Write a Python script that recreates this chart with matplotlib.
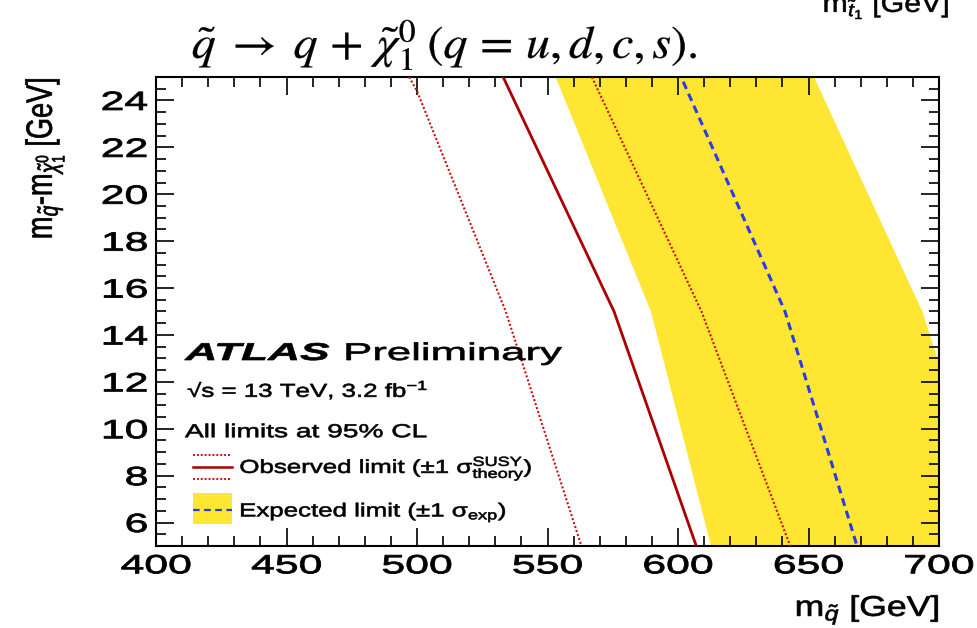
import matplotlib
matplotlib.use('Agg')
import matplotlib.pyplot as plt
from matplotlib.lines import Line2D
from matplotlib.patches import Rectangle
from matplotlib.legend_handler import HandlerBase
from matplotlib.patheffects import AbstractPathEffect
from matplotlib.transforms import Affine2D
from matplotlib.ticker import MultipleLocator

plt.rcParams['font.family'] = ['Liberation Sans', 'DejaVu Sans']
plt.rcParams['mathtext.fontset'] = 'custom'
plt.rcParams['mathtext.rm'] = 'Liberation Sans'
plt.rcParams['mathtext.it'] = 'Liberation Sans:italic'
plt.rcParams['mathtext.bf'] = 'Liberation Sans:bold'
plt.rcParams['mathtext.sf'] = 'Liberation Sans'

# limit contours: squark mass [GeV] vs mass splitting [GeV]
obs_dm = [25, 15, 5]
obs_msq = [533, 575.5, 607]
obs_dn_dm = [25, 24.4, 15, 5]
obs_dn_msq = [497, 500, 534, 563]
obs_up_dm = [25, 15, 5]
obs_up_msq = [567, 609, 643]
exp_dm = [24.8, 15, 5]
exp_msq = [602, 641, 668.6]
band_dm = [25, 15, 5]
band_lo_msq = [553, 589.5, 612.5]
band_hi_msq = [652, 693.5, 722]

yellow = '#ffe633'
dark_red = '#aa0000'
red = '#cc1111'
blue = '#2a3ce6'


class StretchX(AbstractPathEffect):
    # the reference text is squashed wide, so widen glyphs around an anchor
    def __init__(self, sx, anchor='left', lw=0.45):
        super().__init__()
        self.sx = sx
        self.anchor = anchor
        self.lw = lw

    def draw_path(self, renderer, gc, tpath, affine, rgbFace=None):
        bb = tpath.get_extents(affine)
        x0 = {'left': bb.x0, 'center': 0.5 * (bb.x0 + bb.x1), 'right': bb.x1}[self.anchor]
        t = affine + Affine2D().translate(-x0, 0).scale(self.sx, 1).translate(x0, 0)
        gc0 = renderer.new_gc()
        gc0.copy_properties(gc)
        gc0.set_linewidth(self.lw)
        renderer.draw_path(gc0, tpath, t, rgbFace)
        gc0.restore()


class ObsHandler(HandlerBase):
    def create_artists(self, legend, orig_handle, xdescent, ydescent,
                       width, height, fontsize, trans):
        xs = [-xdescent, -xdescent + width]
        y0 = height / 2 - ydescent
        d = 0.64 * fontsize
        arts = []
        for dy, ls, lw, c in ((d, (0, (1, 1)), 1.4, red), (0, '-', 1.8, dark_red),
                              (-d, (0, (1, 1)), 1.4, red)):
            arts.append(Line2D(xs, [y0 + dy] * 2, color=c, ls=ls, lw=lw,
                               transform=trans))
        return arts


class ExpHandler(HandlerBase):
    def create_artists(self, legend, orig_handle, xdescent, ydescent,
                       width, height, fontsize, trans):
        rect = Rectangle((-xdescent, -ydescent - 0.05 * height), width,
                         height * 1.25, facecolor=yellow, edgecolor='none',
                         transform=trans)
        y0 = height / 2 - ydescent
        ln = Line2D([-xdescent, -xdescent + width], [y0, y0], color=blue,
                    lw=1.6, dashes=(3, 2), transform=trans)
        return [rect, ln]


fig = plt.figure(figsize=(9.78, 6.28), dpi=100)
ax = fig.add_axes([156 / 978, 1 - 546 / 628, 783 / 978, 469 / 628])

ax.fill_betweenx(band_dm, band_lo_msq, band_hi_msq, color=yellow, lw=0, zorder=1)
ax.plot(obs_dn_msq, obs_dn_dm, color=red, ls=(0, (1, 1)), lw=1.5, zorder=3)
ax.plot(obs_up_msq, obs_up_dm, color=red, ls=(0, (1, 1)), lw=1.5, zorder=3)
ax.plot(obs_msq, obs_dm, color=dark_red, lw=2.0, zorder=3)
ax.plot(exp_msq, exp_dm, color=blue, lw=2.2, dashes=(2.6, 1.7), zorder=3)

ax.set_xlim(400, 700)
ax.set_ylim(5, 25)
ax.xaxis.set_major_locator(MultipleLocator(50))
ax.xaxis.set_minor_locator(MultipleLocator(10))
ax.yaxis.set_minor_locator(MultipleLocator(0.5))
ax.set_yticks(range(6, 25, 2))
ax.tick_params(which='both', direction='in', top=True, right=True, width=1.2)
ax.tick_params(which='major', length=13, labelsize=19, pad=6)
ax.tick_params(which='minor', length=7)
for s in ax.spines.values():
    s.set_linewidth(1.5)
for lbl in ax.get_xticklabels():
    lbl.set_path_effects([StretchX(1.62, 'center', 0.6)])
for lbl in ax.get_yticklabels():
    lbl.set_path_effects([StretchX(1.62, 'right', 0.6)])

t = ax.text(0.037, 0.3966, 'ATLAS', transform=ax.transAxes, fontsize=17.5,
            fontweight='bold', fontstyle='italic', va='baseline')
t.set_path_effects([StretchX(1.82, lw=0.5)])
t = ax.text(0.241, 0.3966, 'Preliminary', transform=ax.transAxes, fontsize=17.5,
            va='baseline')
t.set_path_effects([StretchX(1.80, lw=0.5)])
t = ax.text(0.040, 0.3177, '\u221as = 13 TeV, 3.2 fb$^{-1}$', transform=ax.transAxes,
            fontsize=13.5, va='baseline')
t.set_path_effects([StretchX(1.38)])
t = ax.text(0.037, 0.232, 'All limits at 95% CL', transform=ax.transAxes,
            fontsize=13.5, va='baseline')
t.set_path_effects([StretchX(1.5)])

obs_h = Line2D([], [])
exp_h = Rectangle((0, 0), 1, 1)
leg = ax.legend([obs_h, exp_h],
                [r'Observed limit ($\pm$1 $\mathrm{\sigma}^{\mathrm{SUSY}}_{\mathrm{theory}}$)',
                 r'Expected limit ($\pm$1 $\mathrm{\sigma}_{\mathrm{exp}}$)'],
                handler_map={obs_h: ObsHandler(), exp_h: ExpHandler()},
                loc='upper left', bbox_to_anchor=(0.047, 0.195), frameon=False,
                fontsize=13.5, handlelength=2.1, handleheight=1.65,
                handletextpad=0.4, labelspacing=0.8, borderpad=0,
                borderaxespad=0)
for txt in leg.get_texts():
    txt.set_path_effects([StretchX(1.38)])

t = fig.text(0.961, 1 - 616 / 628, r'm$_{\tilde{q}}$ [GeV]', ha='right',
             va='baseline', fontsize=20.5)
t.set_path_effects([StretchX(1.25, 'right', 0.5)])
t = fig.text(45 / 978, 1 - 77 / 628, r'm$_{\tilde{q}}$-m$_{\tilde{\chi}^{0}_{1}}$ [GeV]',
             rotation=90, ha='center', va='top', fontsize=19.5)
t.set_path_effects([StretchX(1.35, 'center', 0.5)])

t = fig.text(445 / 978, 1 - 45 / 628,
             r'$\tilde{q}\;\rightarrow\;q\,+\,\tilde{\chi}_1^0\;(q\,=\,u,d,c,s).$',
             ha='center', va='center', fontsize=33, math_fontfamily='stix')
t.set_path_effects([StretchX(1.05, 'center', 0.2)])
t = fig.text(0.971, 1 - 12 / 628, r'm$_{\tilde{t}_1}$ [GeV]', ha='right',
             va='baseline', fontsize=19)
t.set_path_effects([StretchX(1.15, 'right', 0.4)])

fig.savefig('out.png', dpi=100)
